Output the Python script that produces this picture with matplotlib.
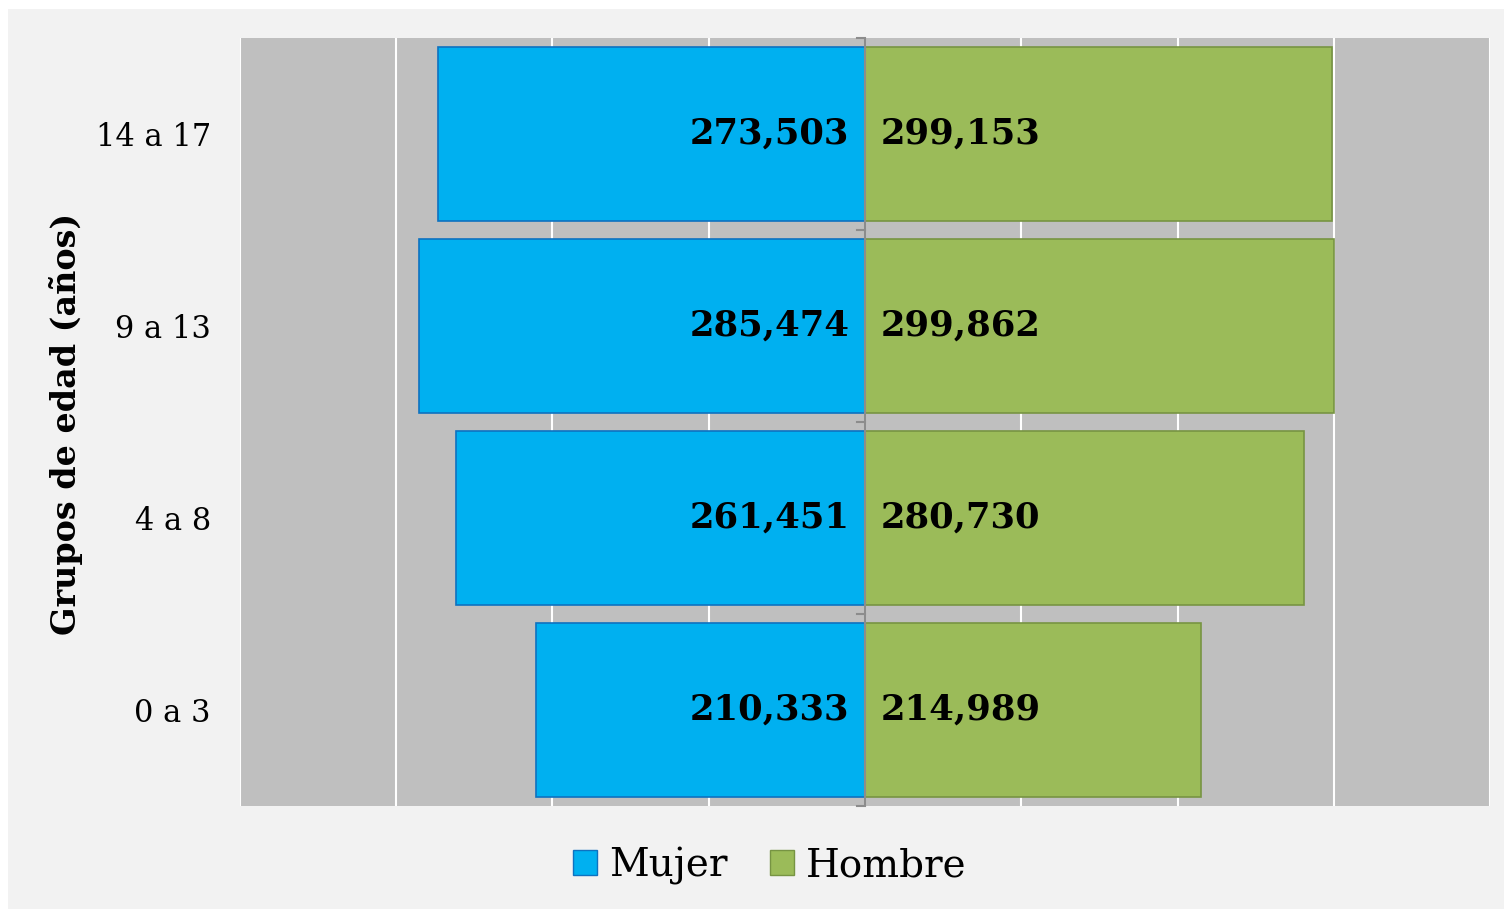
import matplotlib
matplotlib.use("Agg")
import matplotlib.pyplot as plt
from matplotlib.patches import Patch, Rectangle
from matplotlib.ticker import MultipleLocator

# Datos
grupos = ["0 a 3", "4 a 8", "9 a 13", "14 a 17"]
mujer = [210333, 261451, 285474, 273503]
hombre = [214989, 280730, 299862, 299153]

COLOR_MUJER = "#00B0F0"
BORDE_MUJER = "#0E72C0"
COLOR_HOMBRE = "#9BBB59"
BORDE_HOMBRE = "#779443"

plt.rcParams["font.family"] = ["DejaVu Serif"]

fig = plt.figure(figsize=(15.04, 9.09), dpi=100)
fig.patch.set_facecolor("white")
# panel de fondo gris claro
fig.patches.append(Rectangle((8 / 1504, 0.5 / 909), 1 - 8 / 1504, 899.5 / 909,
                             transform=fig.transFigure, facecolor="#F2F2F2",
                             edgecolor="none", zorder=-5))

ax = fig.add_axes([240 / 1504, 103 / 909, 1250 / 1504, 768 / 909])
ax.set_facecolor("#BFBFBF")

y = list(range(len(grupos)))
ax.barh(y, [-v for v in mujer], height=0.906, color=COLOR_MUJER,
        edgecolor=BORDE_MUJER, linewidth=1.2, zorder=3)
ax.barh(y, hombre, height=0.906, color=COLOR_HOMBRE,
        edgecolor=BORDE_HOMBRE, linewidth=1.2, zorder=3)

for yi, m, h in zip(y, mujer, hombre):
    ax.text(-10000, yi, f"{m:,}", ha="right", va="center", fontsize=25.5,
            fontweight="bold", color="black", zorder=5)
    ax.text(10000, yi, f"{h:,}", ha="left", va="center", fontsize=25.5,
            fontweight="bold", color="black", zorder=5)

ax.set_xlim(-400000, 400000)
ax.set_ylim(-0.5, len(grupos) - 0.5)
ax.xaxis.set_major_locator(MultipleLocator(100000))
ax.grid(axis="x", color="white", linewidth=1.5, zorder=1)
ax.set_axisbelow(True)
ax.tick_params(axis="x", length=0, labelbottom=False)

# eje central con marcas entre categorías
ax.axvline(0, color="#8C8C8C", linewidth=1.5, zorder=4)
for b in [-0.5, 0.5, 1.5, 2.5, 3.5]:
    ax.plot([0.5 - 8 / 1250, 0.5], [b, b], transform=ax.get_yaxis_transform(),
            color="#8C8C8C", linewidth=1.5, zorder=4, clip_on=False)

ax.set_yticks(y)
ax.set_yticklabels(grupos, fontsize=22)
ax.tick_params(axis="y", length=0, pad=21)
for s in ax.spines.values():
    s.set_visible(False)

fig.text(66 / 1504, 1 - 424 / 909, "Grupos de edad (años)", rotation=90,
         ha="center", va="center", fontsize=24, fontweight="bold")

handles = [Patch(facecolor=COLOR_MUJER, edgecolor=BORDE_MUJER, label="Mujer"),
           Patch(facecolor=COLOR_HOMBRE, edgecolor=BORDE_HOMBRE, label="Hombre")]
fig.legend(handles=handles, loc="center", bbox_to_anchor=(770 / 1504, 1 - 866 / 909),
           ncol=2, frameon=False, fontsize=28, handlelength=0.62, handleheight=0.62,
           handletextpad=0.3, columnspacing=1.1)

fig.savefig("out.png", dpi=100, facecolor=fig.get_facecolor())
